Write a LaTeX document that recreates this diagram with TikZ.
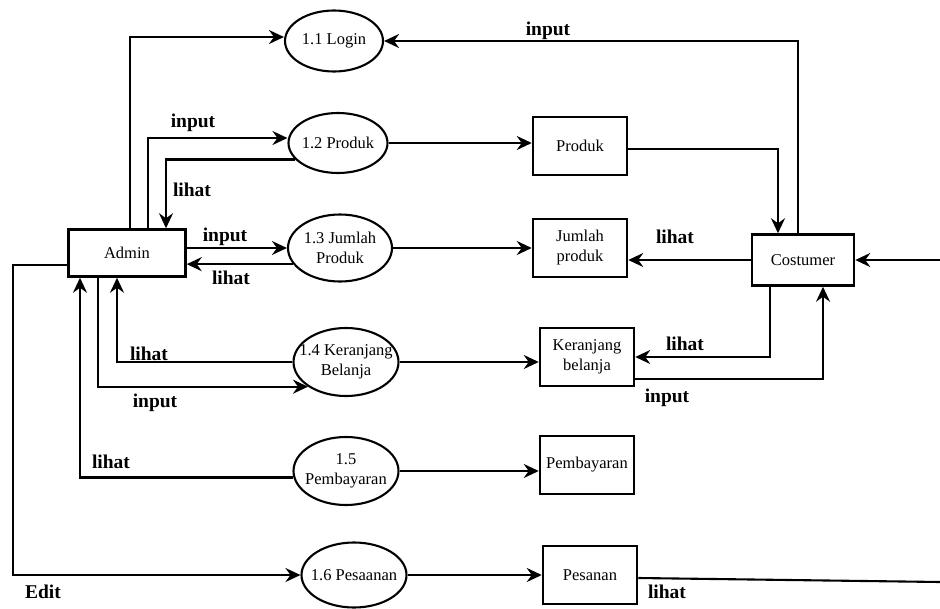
\documentclass[tikz,border=0pt]{standalone}
\usepackage{fontspec}
\setmainfont{Liberation Serif}
\usepackage{tikz}
\usetikzlibrary{arrows.meta, shapes.geometric, calc}

\begin{document}
\begin{tikzpicture}
                [x=1pt, y=-1pt,
                psty/.style={ellipse, draw, line width=2.1pt, inner xsep=-16pt, inner ysep=0pt, align=center, font=\fontsize{16.5}{20}\selectfont},
                dsty/.style={rectangle, draw, line width=2.5pt, inner sep=0pt, align=center, minimum width=94pt, minimum height=58pt, font=\fontsize{16.5}{20}\selectfont},
                asty/.style={-{Stealth[length=15pt, width=14pt, inset=5pt]}, line width=2.1pt},
                lsty/.style={font=\bfseries\fontsize{19.5}{22}\selectfont, inner sep=0pt}]
                \useasboundingbox (0,0) rectangle (940,608);
                % nodes
                \node[dsty, minimum width=117pt, minimum height=47pt] (admin) at (127,253) {Admin};
                \node[psty, minimum width=98pt, minimum height=61pt]  (login) at (334,41)  {1.1 Login};
                \node[psty, minimum width=99pt, minimum height=60pt]  (prod)  at (338,143) {1.2 Produk};
                \node[psty, minimum width=104pt, minimum height=67pt] (jml)   at (340,248) {1.3 Jumlah\\Produk};
                \node[psty, minimum width=105pt, minimum height=68pt] (ker)   at (346,362) {1.4 Keranjang\\Belanja};
                \node[psty, minimum width=105pt, minimum height=68pt] (bayar) at (346,471) {1.5\\Pembayaran};
                \node[psty, minimum width=105pt, minimum height=65pt] (pesan) at (354,575) {1.6 Pesaanan};
                \node[dsty] (dprod)  at (580,146) {Produk};
                \node[dsty] (djml)   at (580,248) {Jumlah\\produk};
                \node[dsty] (dker)   at (587,357) {Keranjang\\belanja};
                \node[dsty] (dbayar) at (587,465) {Pembayaran};
                \node[dsty] (dpesan) at (590,575) {Pesanan};
                \node[dsty, minimum width=102pt, minimum height=51pt] (cust) at (803,260) {Costumer};
                \coordinate (rin)  at (940,260);
                \coordinate (rout) at (940,582);
                % flows admin
                \draw[asty] ([xshift=3pt]admin.north) |- ([yshift=4pt]login.west);
                \draw[asty] ([xshift=21pt]admin.north) |- ([yshift=5pt]prod.west);
                \draw[asty] (prod.201) -| ([xshift=39pt]admin.north);
                \draw[asty] ([yshift=5pt]admin.east) -- ([yshift=5pt]admin.east -| jml.west);
                \draw[asty] (jml.199) -- (jml.199 -| admin.east);
                \draw[asty] (ker.west) -| ([xshift=-10pt]admin.south);
                \draw[asty] ([xshift=-29pt]admin.south) |- (ker.213);
                \draw[asty] (bayar.187) -| ([xshift=-47pt]admin.south);
                \draw[asty] ([yshift=-12pt]admin.west) -- ++(-54,0) |- (pesan.west);
                % flows to data stores
                \draw[asty] (prod.east) -- (prod.east -| dprod.west);
                \draw[asty] (jml.east) -- (jml.east -| djml.west);
                \draw[asty] (ker.east) -- (ker.east -| dker.west);
                \draw[asty] (bayar.east) -- (bayar.east -| dbayar.west);
                \draw[asty] (pesan.east) -- (pesan.east -| dpesan.west);
                % flows costumer
                \draw[asty] ([xshift=-5pt]cust.north) |- (login.east);
                \draw[asty] ([yshift=-3pt]dprod.east) -| ([xshift=-25pt]cust.north);
                \draw[asty] (cust.west) -- (cust.west -| djml.east);
                \draw[asty] (rin) -- (cust.east);
                \draw[asty] ([xshift=-33pt]cust.south) |- (dker.east);
                \draw[asty] ([yshift=-22pt]dker.east) -| ([xshift=20pt]cust.south);
                \draw[line width=2.1pt] ([yshift=-3pt]dpesan.east) -- (rout);
                % labels
                \node[lsty] (l1)  at (193,123) {input};
                \node[lsty] (l2)  at (192,190) {lihat};
                \node[lsty] (l3)  at (225,237) {input};
                \node[lsty] (l4)  at (231,278) {lihat};
                \node[lsty] (l5)  at (149,354) {lihat};
                \node[lsty] (l6)  at (155,403) {input};
                \node[lsty] (l7)  at (111,462) {lihat};
                \node[lsty] (l8)  at (43,592)  {Edit};
                \node[lsty] (l9)  at (548,31)  {input};
                \node[lsty] (l10) at (675,237) {lihat};
                \node[lsty] (l11) at (685,344) {lihat};
                \node[lsty] (l12) at (667,398) {input};
                \node[lsty] (l13) at (667,592) {lihat};
            \end{tikzpicture}
\end{document}
